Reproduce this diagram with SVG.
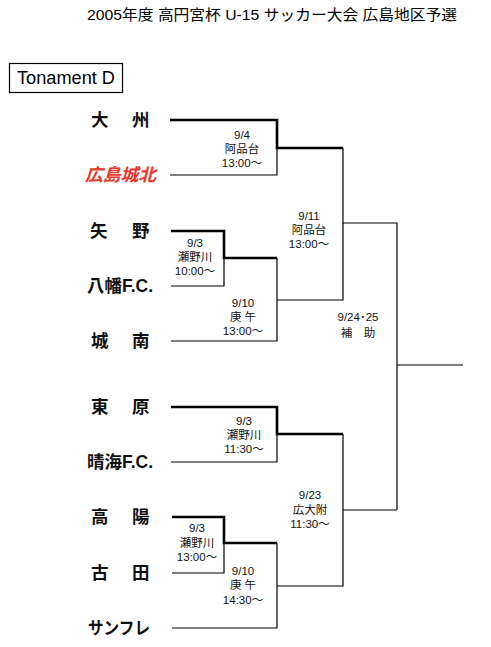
<svg xmlns="http://www.w3.org/2000/svg" width="491" height="647" viewBox="0 0 491 647">
<style>
.t{font-family:"Liberation Sans","Noto Sans CJK JP",sans-serif;fill:#000}
.ttl{font-size:15px}
.box{fill:#fff;stroke:#000;stroke-width:1.2}
.nm{font-family:"Liberation Sans","Noto Sans CJK JP",sans-serif;font-size:17.5px;font-weight:bold;fill:#111}
.red{fill:#e8372c;font-style:italic}
.lb{font-family:"Liberation Sans","Noto Sans CJK JP",sans-serif;font-size:11.5px;fill:#111;text-anchor:middle}
.thin{fill:none;stroke:#000;stroke-width:1.2}
.thick{fill:none;stroke:#000;stroke-width:2.6}
</style>
<rect width="491" height="647" fill="#fff"/>
<text class="t ttl" x="272" y="20" text-anchor="middle" textLength="370" lengthAdjust="spacingAndGlyphs">2005年度 高円宮杯 U-15 サッカー大会 広島地区予選</text>
<g id="title-box">
<rect class="box" x="9.5" y="63.5" width="113" height="29"/>
<text class="t" x="17" y="84" font-size="17.5" textLength="98" lengthAdjust="spacingAndGlyphs">Tonament D</text>
</g>
<g id="teams">
<g id="t1"><text class="nm" x="91 132" y="126">大州</text></g>
<g id="t2"><text class="nm red" x="85" y="181" textLength="71" lengthAdjust="spacingAndGlyphs">広島城北</text></g>
<g id="t3"><text class="nm" x="90 132" y="237">矢野</text></g>
<g id="t4"><text class="nm" x="87" y="292" textLength="66" lengthAdjust="spacingAndGlyphs">八幡F.C.</text></g>
<g id="t5"><text class="nm" x="91 132" y="347">城南</text></g>
<g id="t6"><text class="nm" x="91 132" y="413">東原</text></g>
<g id="t7"><text class="nm" x="87" y="468" textLength="66" lengthAdjust="spacingAndGlyphs">晴海F.C.</text></g>
<g id="t8"><text class="nm" x="91 132" y="523">高陽</text></g>
<g id="t9"><text class="nm" x="91 132" y="579">古田</text></g>
<g id="t10"><text class="nm" x="88" y="634" textLength="62" lengthAdjust="spacingAndGlyphs">サンフレ</text></g>
</g>
<g id="connectors">
<path class="thick" d="M170 120H277V148H343"/>
<path class="thin" d="M170 175H277V148"/>
<path class="thin" d="M343 148V223H397V510"/>
<path class="thick" d="M171 231H224V258H277"/>
<path class="thin" d="M171 286H224V258"/>
<path class="thin" d="M277 258V341H171"/>
<path class="thin" d="M277 300H343V223"/>
<path class="thin" d="M397 365H463"/>
<path class="thick" d="M171 407H277V434H343"/>
<path class="thin" d="M171 462H277V434"/>
<path class="thin" d="M343 434V586H277"/>
<path class="thin" d="M343 510H397"/>
<path class="thick" d="M172 517H224V543H277"/>
<path class="thin" d="M172 573H224V543"/>
<path class="thin" d="M277 543V628H172"/>
</g>
<g id="labels">
<g id="m1"><text class="lb" x="242" y="139">9/4</text><text class="lb" x="242" y="153">阿品台</text><text class="lb" x="242" y="167">13:00〜</text></g>
<g id="m2"><text class="lb" x="309" y="220">9/11</text><text class="lb" x="309" y="234">阿品台</text><text class="lb" x="309" y="248">13:00〜</text></g>
<g id="m3"><text class="lb" x="195" y="247">9/3</text><text class="lb" x="195" y="261">瀬野川</text><text class="lb" x="195" y="275">10:00〜</text></g>
<g id="m4"><text class="lb" x="243" y="307">9/10</text><text class="lb" x="243" y="321">庚 午</text><text class="lb" x="243" y="335">13:00〜</text></g>
<g id="m5"><text class="lb" x="358" y="321">9/24･25</text><text class="lb" x="358" y="337">補　助</text></g>
<g id="m6"><text class="lb" x="244" y="425">9/3</text><text class="lb" x="244" y="439">瀬野川</text><text class="lb" x="244" y="453">11:30〜</text></g>
<g id="m7"><text class="lb" x="310" y="499">9/23</text><text class="lb" x="310" y="514">広大附</text><text class="lb" x="310" y="528">11:30〜</text></g>
<g id="m8"><text class="lb" x="197" y="532">9/3</text><text class="lb" x="197" y="547">瀬野川</text><text class="lb" x="197" y="561">13:00〜</text></g>
<g id="m9"><text class="lb" x="243" y="575">9/10</text><text class="lb" x="243" y="589">庚 午</text><text class="lb" x="243" y="604">14:30〜</text></g>
</g>
</svg>
